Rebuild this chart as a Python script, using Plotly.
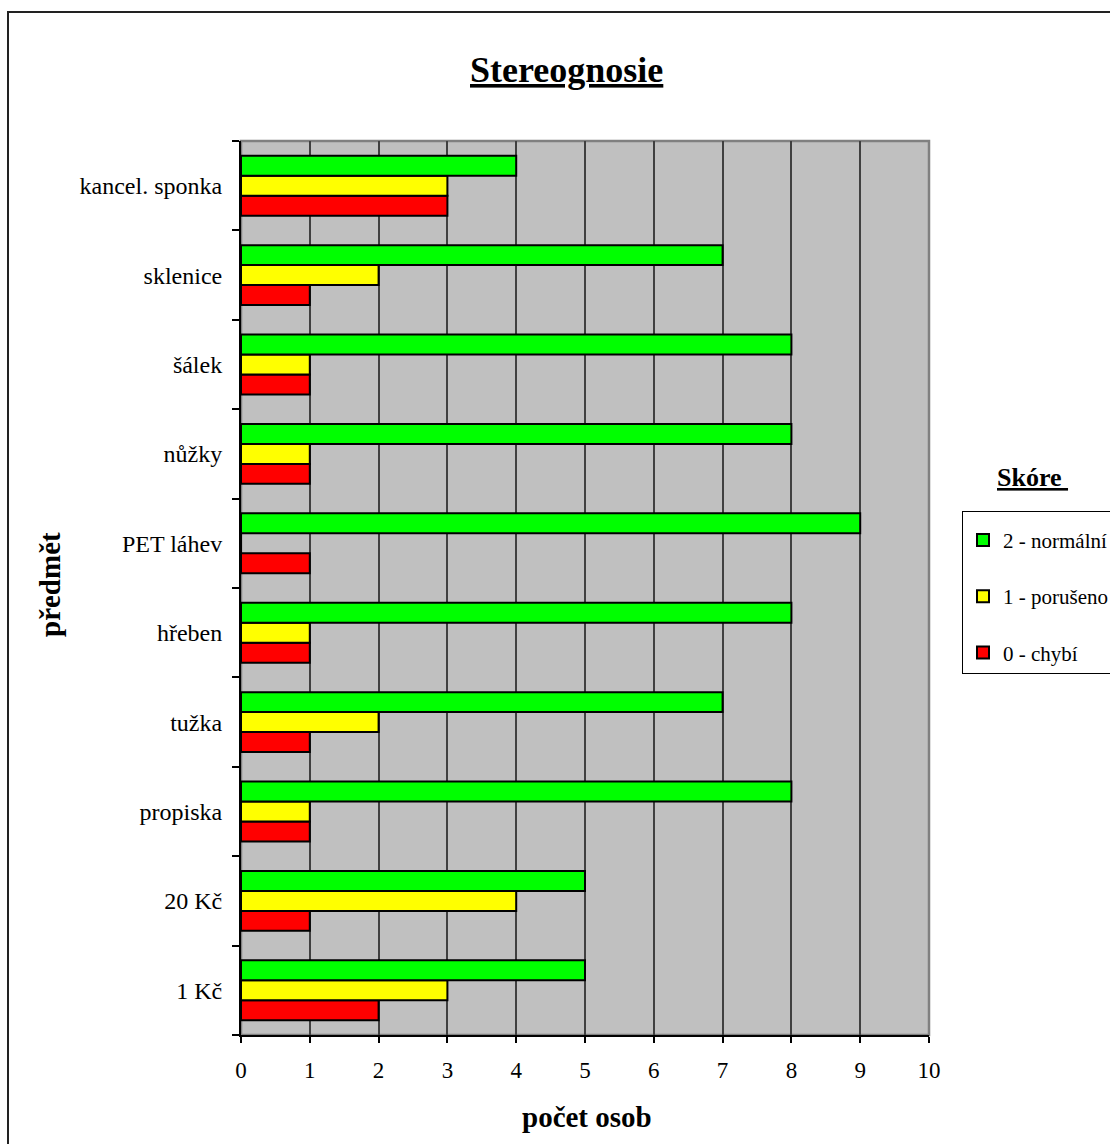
import plotly.graph_objects as go

# Objects tested (bottom to top on the category axis)
predmety = ["1 Kč", "20 Kč", "propiska", "tužka", "hřeben",
            "PET láhev", "nůžky", "šálek", "sklenice", "kancel. sponka"]

# Number of persons per score
skore_0 = [2, 1, 1, 1, 1, 1, 1, 1, 1, 3]   # 0 - chybí
skore_1 = [3, 4, 1, 2, 1, 0, 1, 1, 2, 3]   # 1 - porušeno
skore_2 = [5, 5, 8, 7, 8, 9, 8, 8, 7, 4]   # 2 - normální

x_ticks = list(range(0, 11))

W, H = 1110, 1144
L, R, T, B = 241, 929, 141, 1035  # plot area in pixels


def px_x(p):
    return (p - L) / (R - L)


def px_y(p):
    return (B - p) / (B - T)


SERIF = "Liberation Serif, Times New Roman, serif"

fig = go.Figure()
series = [
    ("0 - chybí", skore_0, "#FF0000", 3),
    ("1 - porušeno", skore_1, "#FFFF00", 2),
    ("2 - normální", skore_2, "#00FF00", 1),
]
for i, (name, vals, col, rank) in enumerate(series):
    fig.add_trace(go.Bar(
        y=predmety, x=vals, name=name, orientation="h",
        marker=dict(color=col, line=dict(color="black", width=2)),
        legendgroup=f"g{i}", legendrank=rank,
        hoverinfo="x+y+name",
    ))

fig.update_layout(
    width=W, height=H,
    margin=dict(l=L, r=W - R, t=T, b=H - B, autoexpand=False),
    paper_bgcolor="white",
    plot_bgcolor="#C0C0C0",
    barmode="group",
    bargap=0.33,
    bargroupgap=0,
    font=dict(family=SERIF, color="black", size=24),
    showlegend=True,
    legend=dict(
        x=px_x(962), y=px_y(511), xanchor="left", yanchor="top",
        bgcolor="white", bordercolor="black", borderwidth=1,
        font=dict(size=21, family=SERIF),
        title=dict(text=" ", font=dict(size=6)),
        traceorder="grouped",
        tracegroupgap=26,
        itemclick=False,
    ),
    xaxis=dict(
        range=[0, 10], tickvals=x_ticks, ticktext=[str(v) for v in x_ticks],
        showgrid=True, gridcolor="#404040", gridwidth=1.5,
        zeroline=False,
        showline=True, linecolor="black", linewidth=2,
        ticks="outside", ticklen=6, tickcolor="black", tickwidth=1.5,
        ticklabelstandoff=7,
        tickfont=dict(size=23, family=SERIF),
    ),
    yaxis=dict(
        categoryorder="array", categoryarray=predmety,
        range=[-0.5, 9.5],
        showgrid=False, zeroline=False,
        showline=True, linecolor="black", linewidth=2,
        ticks="outside", ticklen=7, tickcolor="black", tickwidth=1.5,
        tickson="boundaries",
        ticklabelstandoff=12,
        tickfont=dict(size=24, family=SERIF),
    ),
    shapes=[
        # plot area frame (top and right edges show in grey)
        dict(type="rect", xref="paper", yref="paper", x0=0, x1=1, y0=0, y1=1,
             line=dict(color="#808080", width=2.5), layer="below"),
        # outer chart border
        dict(type="rect", xref="paper", yref="paper",
             x0=px_x(8), x1=px_x(1125), y0=px_y(12), y1=px_y(1160),
             line=dict(color="#222222", width=2), layer="below"),
    ],
    annotations=[
        dict(text="<b><u>Stereognosie</u></b>", xref="paper", yref="paper",
             x=px_x(566), y=px_y(70), showarrow=False,
             font=dict(size=36, family=SERIF), xanchor="center", yanchor="middle"),
        dict(text="<b>počet osob</b>", xref="paper", yref="paper",
             x=px_x(587), y=px_y(1117), showarrow=False,
             font=dict(size=29, family=SERIF), xanchor="center", yanchor="middle"),
        dict(text="<b>předmět</b>", xref="paper", yref="paper",
             x=px_x(50), y=px_y(585), showarrow=False, textangle=-90,
             font=dict(size=29, family=SERIF), xanchor="center", yanchor="middle"),
        dict(text="<b><u>Skóre </u></b>", xref="paper", yref="paper",
             x=px_x(1032), y=px_y(477), showarrow=False,
             font=dict(size=26, family=SERIF), xanchor="center", yanchor="middle"),
    ],
)

fig.write_html("out.html")
